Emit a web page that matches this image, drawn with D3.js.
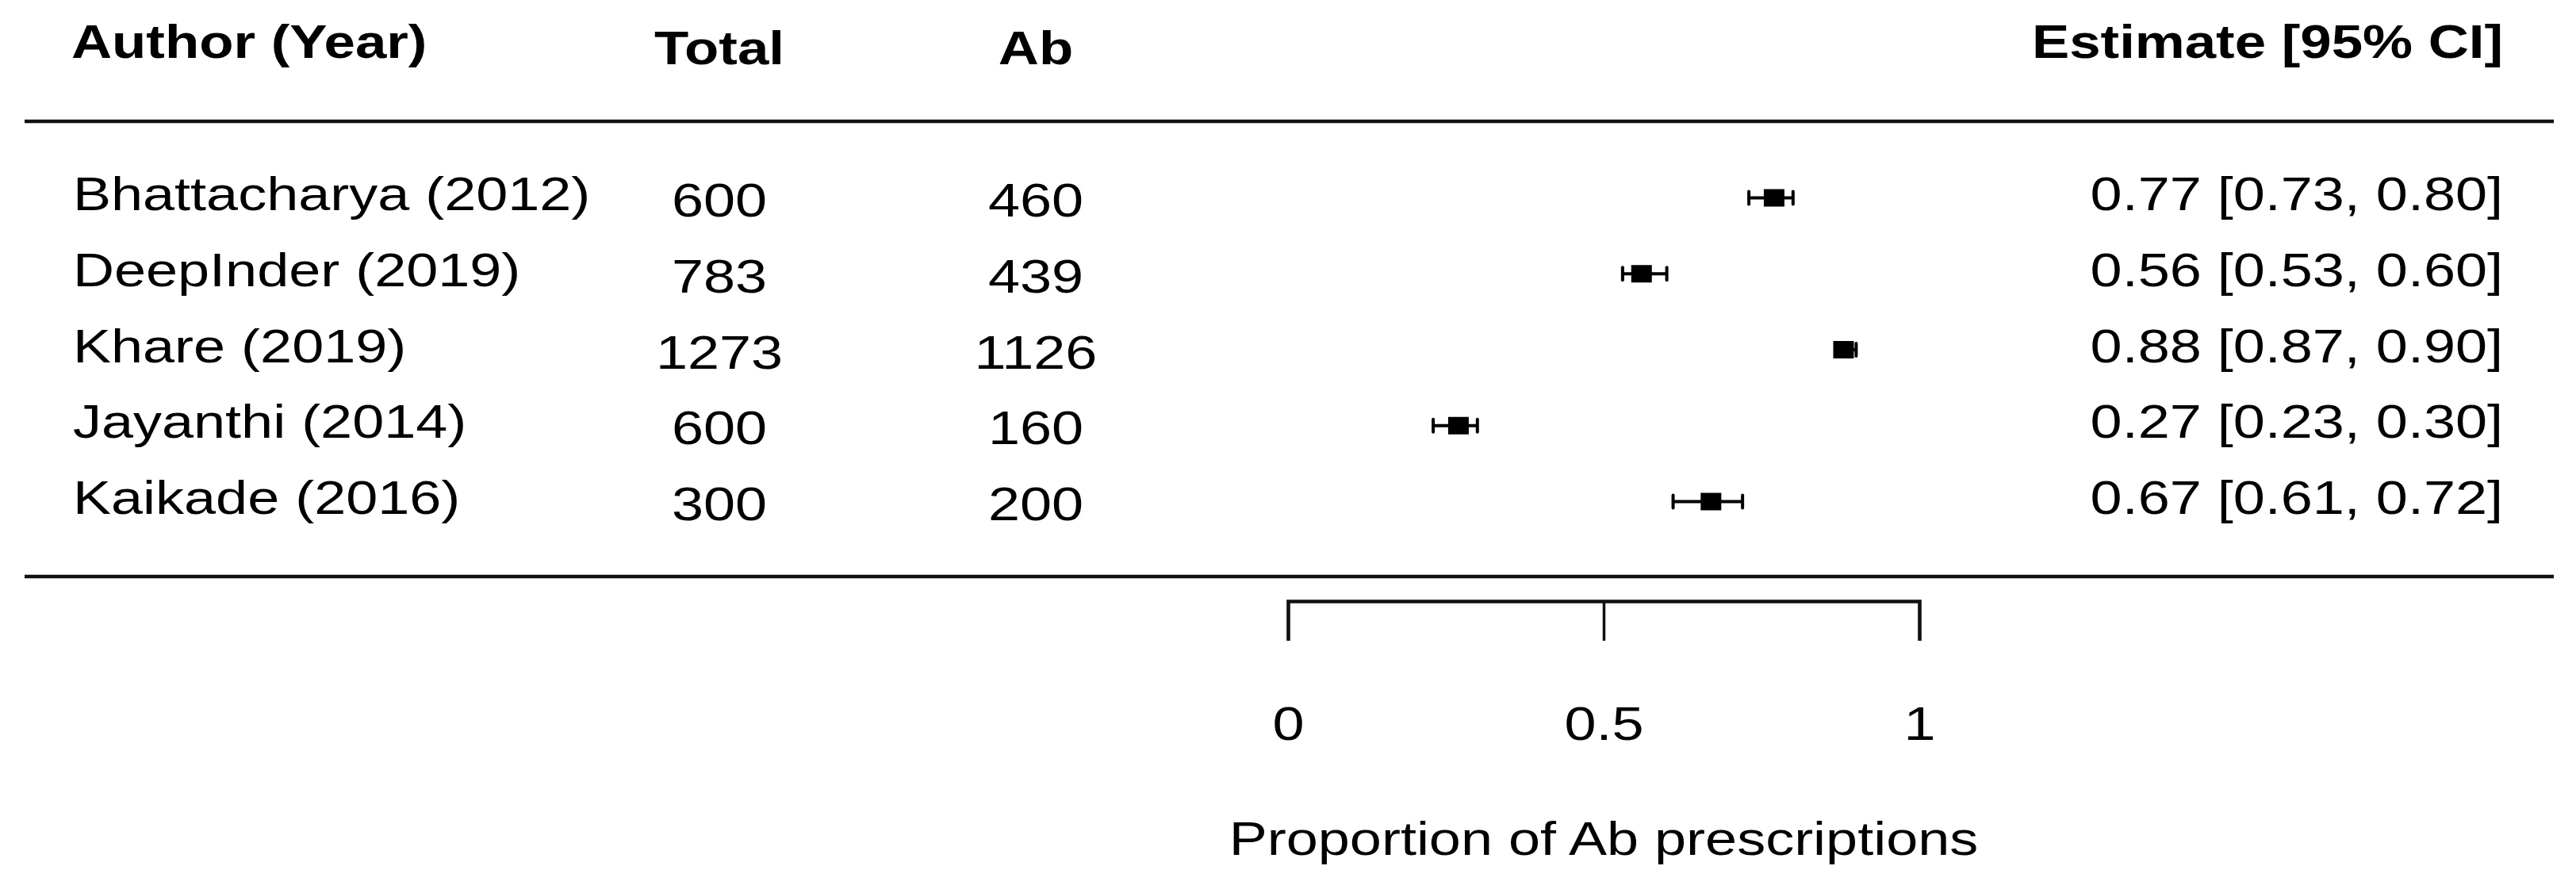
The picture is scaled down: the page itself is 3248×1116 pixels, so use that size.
<!DOCTYPE html>
<html>
<head>
<meta charset="utf-8">
<script src="https://cdn.jsdelivr.net/npm/d3@7"></script>
<style>
  html, body { margin: 0; padding: 0; background: #ffffff; }
  svg { display: block; }
</style>
</head>
<body>
<script>
// ---- data ----
const authors = ["Bhattacharya (2012)", "DeepInder (2019)", "Khare (2019)", "Jayanthi (2014)", "Kaikade (2016)"];
const totals = [600, 783, 1273, 600, 300];
const abCounts = [460, 439, 1126, 160, 200];
const estimates = [0.77, 0.56, 0.88, 0.27, 0.67];
const ciLower = [0.73, 0.53, 0.87, 0.23, 0.61];
const ciUpper = [0.80, 0.60, 0.90, 0.30, 0.72];
const xTicks = [0, 0.5, 1];
const xTickLabels = ["0", "0.5", "1"];
const headers = ["Author (Year)", "Total", "Ab", "Estimate [95% CI]"];
const axisTitle = "Proportion of Ab prescriptions";

// ---- layout ----
const W = 3248, H = 1116;
const FONT = "'Liberation Sans', Arial, Helvetica, sans-serif";
const SX = 1.2;            // horizontal stretch of the glyphs in the reference
const FS = 60, FSB = 59;

const svg = d3.select("body").append("svg")
  .attr("width", W).attr("height", H)
  .attr("viewBox", `0 0 ${W} ${H}`);

const x = d3.scaleLinear().domain([0, 1]).range([1624, 2420]);
const y = d3.scalePoint().domain(authors).range([265, 648]);

const colAuthor = 92, colTotal = 907, colAb = 1306, colEst = 3156;
const ilabShift = 8;

function txt(g, s, tx, ty, anchor, bold) {
  return g.append("text")
    .attr("transform", `translate(${tx},${ty}) scale(${SX},1)`)
    .attr("text-anchor", anchor)
    .attr("font-family", FONT)
    .attr("font-size", bold ? FSB : FS)
    .attr("font-weight", bold ? "bold" : "normal")
    .attr("fill", "#000")
    .text(s);
}

// headers
const gh = svg.append("g");
txt(gh, headers[0], colAuthor - 2, 73, "start", true);
txt(gh, headers[1], colTotal, 73 + ilabShift, "middle", true);
txt(gh, headers[2], colAb, 73 + ilabShift, "middle", true);
txt(gh, headers[3], colEst, 73, "end", true);

// separator lines
svg.append("g").selectAll("line").data([153, 727]).join("line")
  .attr("x1", 31).attr("x2", 3220)
  .attr("y1", d => d).attr("y2", d => d)
  .attr("stroke", "#111").attr("stroke-width", 4.5);

// rows text
const fmt = d3.format(".2f");
const gr = svg.append("g");
authors.forEach((a, i) => {
  const yy = y(a);
  txt(gr, a, colAuthor, yy, "start", false);
  txt(gr, String(totals[i]), colTotal, yy + ilabShift, "middle", false);
  txt(gr, String(abCounts[i]), colAb, yy + ilabShift, "middle", false);
  txt(gr, `${fmt(estimates[i])} [${fmt(ciLower[i])}, ${fmt(ciUpper[i])}]`, colEst, yy, "end", false);
});

// markers
const gm = svg.append("g");
const rows = authors.map((a, i) => ({a, est: estimates[i], lo: ciLower[i], hi: ciUpper[i], cy: y(a) - 15.5}));
gm.selectAll("line.ci").data(rows).join("line").attr("class", "ci")
  .attr("x1", d => x(d.lo)).attr("x2", d => x(d.hi))
  .attr("y1", d => d.cy).attr("y2", d => d.cy)
  .attr("stroke", "#000").attr("stroke-width", 4);
gm.selectAll("line.capL").data(rows).join("line").attr("class", "capL")
  .attr("x1", d => x(d.lo)).attr("x2", d => x(d.lo))
  .attr("y1", d => d.cy - 8).attr("y2", d => d.cy + 8)
  .attr("stroke", "#000").attr("stroke-width", 4).attr("stroke-linecap", "round");
gm.selectAll("line.capR").data(rows).join("line").attr("class", "capR")
  .attr("x1", d => x(d.hi)).attr("x2", d => x(d.hi))
  .attr("y1", d => d.cy - 8).attr("y2", d => d.cy + 8)
  .attr("stroke", "#000").attr("stroke-width", 4).attr("stroke-linecap", "round");
gm.selectAll("rect").data(rows).join("rect")
  .attr("x", d => x(d.est) - 13).attr("y", d => d.cy - 11)
  .attr("width", 26).attr("height", 22)
  .attr("fill", "#000");

// axis
const axis = d3.axisBottom(x)
  .tickValues(xTicks)
  .tickFormat((d, i) => xTickLabels[i])
  .tickSize(50)
  .tickPadding(82);
const ga = svg.append("g").attr("transform", "translate(0,758)").call(axis);
ga.select(".domain").attr("stroke", "#111").attr("stroke-width", 4.5);
ga.selectAll(".tick line").attr("stroke", "#111").attr("stroke-width", 3.5);
ga.selectAll(".tick text")
  .attr("font-family", FONT).attr("font-size", FS).attr("fill", "#000")
  .attr("transform", `scale(${SX},1)`);

// axis title
txt(svg, axisTitle, (x.range()[0] + x.range()[1]) / 2, 1078, "middle", false);
</script>
</body>
</html>
